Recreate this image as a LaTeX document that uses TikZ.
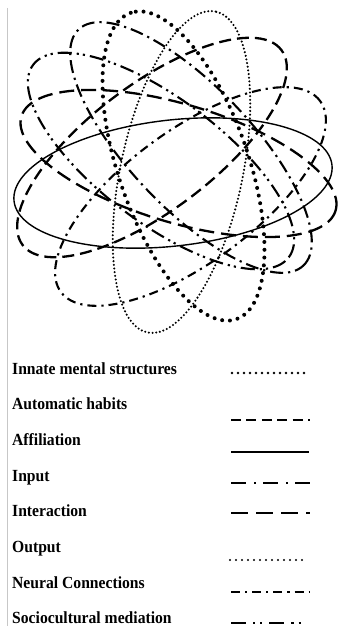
\documentclass[tikz,border=0pt]{standalone}
\usepackage{fontspec}
\setmainfont{Liberation Serif}
\newfontfamily\legfont[FakeStretch=0.92]{Liberation Serif}
\begin{document}
\begin{tikzpicture}[x=1pt,y=-1pt,
  innate/.style={line width=4pt, line cap=round, dash pattern=on 0pt off 7.8pt},
  autohab/.style={line width=2.3pt, line cap=butt, dash pattern=on 12pt off 6pt},
  affil/.style={line width=1.4pt},
  inputln/.style={line width=2.1pt, line cap=butt, dash pattern=on 13pt off 5pt on 2.2pt off 5pt},
  interln/.style={line width=2.3pt, line cap=butt, dash pattern=on 15pt off 7pt},
  outputln/.style={line width=2.3pt, line cap=round, dash pattern=on 0pt off 3.7pt},
  neural/.style={line width=2.1pt, line cap=butt, dash pattern=on 9pt off 5pt on 2.2pt off 5pt},
  socio/.style={line width=2.1pt, line cap=butt, dash pattern=on 14pt off 5pt on 2.2pt off 4pt on 2.2pt off 5pt},
  legtext/.style={anchor=base west, inner sep=0pt, font=\legfont\bfseries\fontsize{17}{20}\selectfont}
]
\useasboundingbox (0,0) rectangle (339,626);
\fill[white] (0,0) rectangle (339,626);
\draw[black!22, line width=0.8pt] (7,8) -- (7,626);

% ellipses
\draw[affil]   [rotate around={6.5:(173,183)}]    (173,183)   ellipse [x radius=160pt, y radius=63pt];
\draw[innate]  [rotate around={109:(183.5,166)}]  (183.5,166) ellipse [x radius=162pt, y radius=65pt];
\draw[outputln][rotate around={78:(181.5,172)}]   (181.5,172) ellipse [x radius=164pt, y radius=61pt];
\draw[autohab] [rotate around={37:(152,147.5)}]   (152,147.5) ellipse [x radius=162pt, y radius=63pt];
\draw[interln] [rotate around={-16.7:(178.5,163.5)}] (178.5,163.5) ellipse [x radius=164pt, y radius=59pt];
\draw[socio]   [rotate around={-37:(161,161)}]    (161,161)   ellipse [x radius=160pt, y radius=62pt];
\draw[inputln] [rotate around={-46.4:(191,147.5)}] (191,147.5) ellipse [x radius=163pt, y radius=61pt];
\draw[neural]  [rotate around={36.4:(190.5,196.5)}] (190.5,196.5) ellipse [x radius=161pt, y radius=66pt];

% legend
\node[legtext] (t1) at (12,374)   {Innate mental structures};
\node[legtext] (t2) at (12,409.5) {Automatic habits};
\node[legtext] (t3) at (12,445)   {Affiliation};
\node[legtext] (t4) at (12,481)   {Input};
\node[legtext] (t5) at (12,516.5) {Interaction};
\node[legtext] (t6) at (12,552)   {Output};
\node[legtext] (t7) at (12,588)   {Neural Connections};
\node[legtext] (t8) at (12,623.5) {Sociocultural mediation};

\draw[line width=2.6pt, line cap=round, dash pattern=on 0pt off 6pt] (232,373) -- (307,373);
\draw[line width=2.3pt, line cap=butt, dash pattern=on 10pt off 5.4pt] (231,420) -- (310,420);
\draw[line width=1.4pt] (231,452) -- (309,452);
\draw[line width=2.3pt, line cap=butt, dash pattern=on 15pt off 8pt on 2.2pt off 7pt] (231,483) -- (310,483);
\draw[line width=2.3pt, line cap=butt, dash pattern=on 17pt off 8pt] (231,513) -- (310,513);
\draw[line width=2.2pt, line cap=round, dash pattern=on 0pt off 6pt] (230,560) -- (307,560);
\draw[line width=2.3pt, line cap=butt, dash pattern=on 9pt off 5pt on 2.2pt off 5pt] (231,592) -- (310,592);
\draw[line width=2.3pt, line cap=butt, dash pattern=on 15pt off 7pt on 2.2pt off 5pt on 2.2pt off 7pt] (231,623) -- (301,623);
\end{tikzpicture}
\end{document}
